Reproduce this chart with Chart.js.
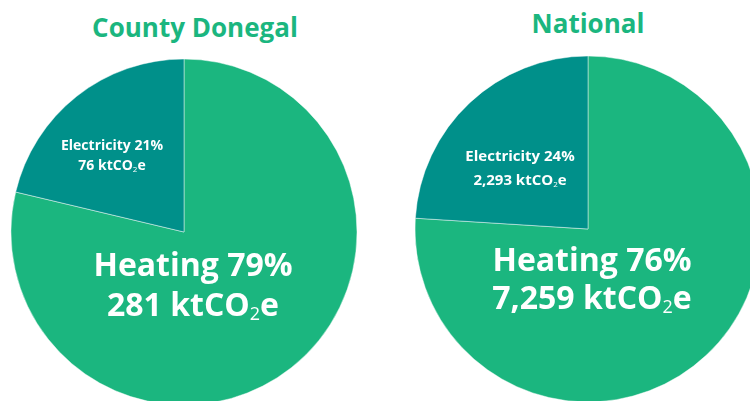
<!DOCTYPE html>
<html>
<head>
<meta charset="utf-8">
<script src="https://cdn.jsdelivr.net/npm/chart.js@4"></script>
<style>
  html, body { margin: 0; padding: 0; background: #fff; overflow: hidden; width: 750px; height: 401px; }
  body { position: relative; font-family: "Open Sans", sans-serif; }
  .titulo { position: absolute; margin: 0; font-size: 26px; font-weight: 700; color: #1bb67f; white-space: nowrap; line-height: 1; transform: translate(-50%, -50%); }
  .pie { position: absolute; width: 368px; height: 464px; }
</style>
</head>
<body>
<h2 class="titulo" id="titulo-donegal" style="left:195px; top:27px"></h2>
<h2 class="titulo" id="titulo-nacional" style="left:588px; top:23px"></h2>
<div class="pie" style="left:0; top:0"><canvas id="pieDonegal"></canvas></div>
<div class="pie" style="left:404px; top:-3px"><canvas id="pieNacional"></canvas></div>

<script>
// ===== Datos =====
const titulos = ["County Donegal", "National"];
const categorias = ["Heating", "Electricity"];
const porcentajeDonegal = [79, 21];
const emisionesDonegal = [281, 76];
const porcentajeNacional = [76, 24];
const emisionesNacional = [7259, 2293];

const colores = ["#1bb67f", "#00908a"];
const fuente = '"Open Sans", sans-serif';

// ===== Utilidades =====
function formatearNumero(n) {
  return (Number(n) || 0).toLocaleString("en-US");
}

// linea "281 ktCO2e" con el 2 en subindice
function dibujarEmisiones(ctx, valor, x, y, size) {
  const partes = [
    { t: formatearNumero(valor) + " ktCO", f: `700 ${size}px ${fuente}`, dy: 0 },
    { t: "2", f: `400 ${Math.round(size * 0.55)}px ${fuente}`, dy: size * 0.25 },
    { t: "e", f: `700 ${size}px ${fuente}`, dy: 0 }
  ];
  let total = 0;
  partes.forEach(p => { ctx.font = p.f; p.w = ctx.measureText(p.t).width; total += p.w; });
  let cx = x - total / 2;
  ctx.textAlign = "left";
  partes.forEach(p => {
    ctx.font = p.f;
    ctx.fillText(p.t, cx, y + p.dy);
    cx += p.w;
  });
}

// ===== Plugin etiquetas =====
const pluginEtiquetas = {
  id: "etiquetas",
  afterDatasetsDraw(chart, args, opts) {
    const { ctx } = chart;
    const arc = chart.getDatasetMeta(0).data[0];
    if (!arc) return;
    const cx = arc.x, cy = arc.y;
    ctx.save();
    ctx.fillStyle = "#fff";
    ctx.textBaseline = "middle";
    opts.items.forEach((it, i) => {
      ctx.font = `700 ${it.size}px ${fuente}`;
      ctx.textAlign = "center";
      ctx.fillText(`${categorias[i]} ${opts.porcentajes[i]}%`, cx + it.dx, cy + it.dy);
      dibujarEmisiones(ctx, opts.emisiones[i], cx + it.dx, cy + it.dy + it.gap, it.size);
    });
    ctx.restore();
  }
};

function crearPie(idCanvas, emisiones, porcentajes, items) {
  const ctx = document.getElementById(idCanvas).getContext("2d");
  return new Chart(ctx, {
    type: "pie",
    data: {
      labels: categorias,
      datasets: [{ data: emisiones, backgroundColor: colores, borderColor: "rgba(255,255,255,0.45)", borderWidth: 1 }]
    },
    options: {
      responsive: true,
      maintainAspectRatio: false,
      animation: false,
      events: [],
      radius: 173,
      layout: { padding: 0 },
      plugins: {
        legend: { display: false },
        tooltip: { enabled: false },
        etiquetas: { emisiones, porcentajes, items }
      }
    },
    plugins: [pluginEtiquetas]
  });
}

document.getElementById("titulo-donegal").textContent = titulos[0];
document.getElementById("titulo-nacional").textContent = titulos[1];

crearPie("pieDonegal", emisionesDonegal, porcentajeDonegal, [
  { dx: 9, dy: 35, gap: 40, size: 32 },
  { dx: -72, dy: -86, gap: 20, size: 14 }
]);
crearPie("pieNacional", emisionesNacional, porcentajeNacional, [
  { dx: 4, dy: 33, gap: 38, size: 32 },
  { dx: -68, dy: -72, gap: 24, size: 15 }
]);
</script>
</body>
</html>
